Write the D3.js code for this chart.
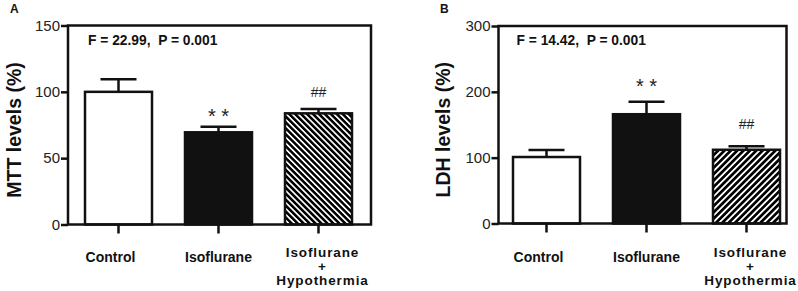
<!DOCTYPE html>
<html>
<head>
<meta charset="utf-8">
<script src="https://cdn.jsdelivr.net/npm/d3@7"></script>
<style>
  body { margin: 0; background: #fff; }
  svg { font-family: Arial, "Liberation Sans", sans-serif; }
</style>
</head>
<body>
<div id="chart"></div>
<script>
// data
const groups = ["Control", "Isoflurane", "Isoflurane|+|Hypothermia"];
const mttMeans = [100, 69.5, 83.8];
const mttErrors = [9.4, 4.2, 3.2];
const ldhMeans = [101, 166, 112];
const ldhErrors = [10.5, 19, 5.5];
const mttTicks = [0, 50, 100, 150];
const ldhTicks = [0, 100, 200, 300];
const marks = ["", "* *", "##"];

const svg = d3.select("#chart").append("svg")
  .attr("width", 798)
  .attr("height", 291);

const defs = svg.append("defs");

function hatch(id, size, angle) {
  const p = defs.append("pattern")
    .attr("id", id)
    .attr("patternUnits", "userSpaceOnUse")
    .attr("width", size)
    .attr("height", size)
    .attr("patternTransform", `rotate(${angle})`);
  p.append("rect").attr("width", size).attr("height", size).attr("fill", "#fff");
  p.append("line")
    .attr("x1", size / 2).attr("x2", size / 2)
    .attr("y1", -1).attr("y2", size + 1)
    .attr("stroke", "#000")
    .attr("stroke-width", 2.1)
    .attr("shape-rendering", "crispEdges");
}
hatch("hatchA", 4.2, -45);
hatch("hatchB", 4.5, 45);

function panel(cfg) {
  const g = svg.append("g");

  const x = d3.scaleBand()
    .domain(groups)
    .range([cfg.barLeft, cfg.barRight])
    .paddingInner(0.33)
    .paddingOuter(0);

  const y = d3.scaleLinear()
    .domain([0, cfg.ticks[cfg.ticks.length - 1]])
    .range([cfg.bottom, cfg.top]);

  // y axis ticks
  const yAxis = g.append("g")
    .attr("transform", `translate(${cfg.left},0)`)
    .call(d3.axisLeft(y).tickValues(cfg.ticks).tickSize(7).tickPadding(1));
  yAxis.select(".domain").remove();
  yAxis.selectAll("line").attr("stroke", "#111").attr("stroke-width", 2.5);
  yAxis.selectAll("text")
    .attr("font-size", 15)
    .attr("font-family", "Arial, 'Liberation Sans', sans-serif")
    .attr("fill", "#222");

  // x axis ticks
  const xAxis = g.append("g")
    .attr("transform", `translate(0,${cfg.bottom})`)
    .call(d3.axisBottom(x).tickSize(9).tickFormat(""));
  xAxis.select(".domain").remove();
  xAxis.selectAll("line").attr("stroke", "#111").attr("stroke-width", 2.5);

  // bars
  g.selectAll(".bar")
    .data(cfg.means)
    .join("rect")
    .attr("class", "bar")
    .attr("x", (d, i) => x(groups[i]))
    .attr("width", x.bandwidth())
    .attr("y", d => y(d))
    .attr("height", d => y(0) - y(d))
    .attr("fill", (d, i) => ["#fff", "#111", `url(#${cfg.hatch})`][i])
    .attr("stroke", "#111")
    .attr("stroke-width", 2.5);

  // error bars
  const eb = g.selectAll(".err")
    .data(cfg.means)
    .join("g")
    .attr("class", "err");
  eb.append("line")
    .attr("x1", (d, i) => x(groups[i]) + x.bandwidth() / 2)
    .attr("x2", (d, i) => x(groups[i]) + x.bandwidth() / 2)
    .attr("y1", d => y(d))
    .attr("y2", (d, i) => y(d + cfg.errors[i]))
    .attr("stroke", "#111")
    .attr("stroke-width", 2.5);
  eb.append("line")
    .attr("x1", (d, i) => x(groups[i]) + x.bandwidth() / 2 - 18)
    .attr("x2", (d, i) => x(groups[i]) + x.bandwidth() / 2 + 18)
    .attr("y1", (d, i) => y(d + cfg.errors[i]))
    .attr("y2", (d, i) => y(d + cfg.errors[i]))
    .attr("stroke", "#111")
    .attr("stroke-width", 2.5);

  // significance marks
  g.selectAll(".mark")
    .data(marks)
    .join("text")
    .attr("class", "mark")
    .attr("x", (d, i) => x(groups[i]) + x.bandwidth() / 2)
    .attr("y", (d, i) => y(cfg.means[i] + cfg.errors[i]) - cfg.markGap + (d.includes("*") ? 7.8 : 0))
    .attr("text-anchor", "middle")
    .attr("font-size", d => d.includes("*") ? 20 : 14)
    .attr("fill", "#222")
    .text(d => d);

  // frame
  g.append("rect")
    .attr("x", cfg.left)
    .attr("y", cfg.top)
    .attr("width", cfg.right - cfg.left)
    .attr("height", cfg.bottom - cfg.top)
    .attr("fill", "none")
    .attr("stroke", "#111")
    .attr("stroke-width", 2.5);

  // category labels
  groups.forEach((name, i) => {
    const lines = name.split("|");
    const cx = x(name) + x.bandwidth() / 2;
    const multi = lines.length > 1;
    const t = g.append("text")
      .attr("text-anchor", "middle")
      .attr("font-weight", "bold")
      .attr("font-size", multi ? 13.5 : 14)
      .attr("letter-spacing", multi ? 0.9 : 0)
      .attr("fill", "#111");
    lines.forEach((ln, j) => {
      t.append("tspan")
        .attr("x", multi ? cx + 4 : cx - (i === 0 ? 8 : 0))
        .attr("y", (multi ? 256.5 : 262) + j * 14)
        .text(ln);
    });
  });

  // stats text
  g.append("text")
    .attr("x", cfg.statX)
    .attr("y", 45)
    .attr("font-weight", "bold")
    .attr("font-size", 13.8)
    .attr("fill", "#111")
    .attr("xml:space", "preserve")
    .text(cfg.stat);

  // y label
  g.append("text")
    .attr("transform", `translate(${cfg.labelX},${(cfg.top + cfg.bottom) / 2 + 5}) rotate(-90)`)
    .attr("text-anchor", "middle")
    .attr("font-weight", "bold")
    .attr("font-size", 19.5)
    .attr("fill", "#111")
    .text(cfg.yLabel);

  // panel letter
  g.append("text")
    .attr("x", cfg.letterX)
    .attr("y", 13)
    .attr("font-weight", "bold")
    .attr("font-size", 12)
    .attr("fill", "#111")
    .text(cfg.letter);
}

panel({
  means: mttMeans, errors: mttErrors, ticks: mttTicks,
  left: 68, right: 371, top: 25.5, bottom: 224.5,
  barLeft: 85, barRight: 352,
  hatch: "hatchA", markGap: 12,
  stat: "F = 22.99,  P = 0.001", statX: 88,
  yLabel: "MTT levels (%)", labelX: 21,
  letter: "A", letterX: 10
});

panel({
  means: ldhMeans, errors: ldhErrors, ticks: ldhTicks,
  left: 498.5, right: 786.5, top: 26, bottom: 223.5,
  barLeft: 513, barRight: 780,
  hatch: "hatchB", markGap: 17,
  stat: "F = 14.42,  P = 0.001", statX: 516.5,
  yLabel: "LDH levels (%)", labelX: 450,
  letter: "B", letterX: 440
});
</script>
</body>
</html>
